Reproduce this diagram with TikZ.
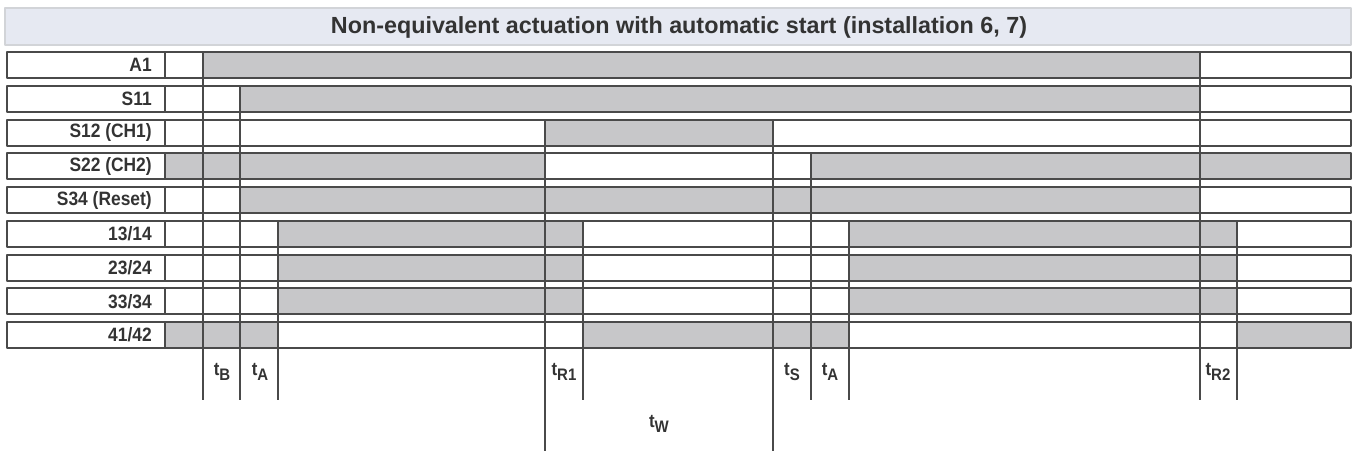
\documentclass[tikz,border=0pt]{standalone}
\usepackage{fontspec}
\setmainfont{Liberation Sans}
\newfontfamily\condfont{Liberation Sans}[FakeStretch=0.9]
\definecolor{hiline}{HTML}{4A4A4A}
\definecolor{hifill}{HTML}{C7C7C9}
\definecolor{titlefill}{HTML}{E6E9F2}
\definecolor{titleline}{HTML}{D2D4D8}
\definecolor{txt}{HTML}{333333}
\newcommand{\tsub}[1]{t\raisebox{-3.75pt}{\fontsize{12.5}{13}\selectfont #1}}

\begin{document}
\begin{tikzpicture}[x=0.75pt, y=-0.75pt, line join=round,
  sig/.style={draw=hiline, line width=1.5pt},
  on/.style={fill=hifill},
  rowlbl/.style={anchor=east, inner sep=0pt, text=txt, font=\condfont\bfseries\fontsize{14.5}{15}\selectfont},
  tlbl/.style={inner sep=0pt, text=txt, font=\condfont\bfseries\fontsize{14}{15}\selectfont}]
\useasboundingbox (0,0) rectangle (1353,451);
% title bar
\draw[titleline, fill=titlefill, line width=1.5pt] (5,8) rectangle (1351,45);
\node[text=txt, font=\bfseries\fontsize{17.5}{19}\selectfont] (title) at (679,27) {Non-equivalent actuation with automatic start (installation 6, 7)};
% high levels
\foreach \segs [count=\i from 0] in {{203/1200},{240/1200},{545/773},{165/545,811/1351},{240/1200},
    {278/583,849/1237},{278/583,849/1237},{278/583,849/1237},{165/278,583/849,1237/1351}}
  \foreach \a/\b in \segs
    \fill[on] (\a,52+33.75*\i) rectangle (\b,78+33.75*\i);
% rows
\foreach \lbl [count=\i from 0] in {A1,S11,S12 (CH1),S22 (CH2),S34 (Reset),13/14,23/24,33/34,41/42} {
  \draw[sig] (7,52+33.75*\i) rectangle (1351,78+33.75*\i);
  \draw[sig] (165,52+33.75*\i) -- (165,78+33.75*\i);
  \node[rowlbl] (row\i) at (152,65+33.75*\i) {\lbl};
}
% switching instants
\foreach \x/\i/\e in {203/0/400,240/1/400,278/5/400,545/2/451,583/5/400,773/2/451,811/3/400,849/5/400,1200/0/400,1237/5/400}
  \draw[sig] (\x,52+33.75*\i) -- (\x,\e);
% times
\node[tlbl] (tB) at (222,372) {\tsub{B}};
\node[tlbl] (tA1) at (260,372) {\tsub{A}};
\node[tlbl] (tR1) at (564,372) {\tsub{R1}};
\node[tlbl] (tS) at (792,372) {\tsub{S}};
\node[tlbl] (tA2) at (830,372) {\tsub{A}};
\node[tlbl] (tR2) at (1218,372) {\tsub{R2}};
\node[tlbl] (tW) at (659,424) {\tsub{W}};
\end{tikzpicture}
\end{document}
